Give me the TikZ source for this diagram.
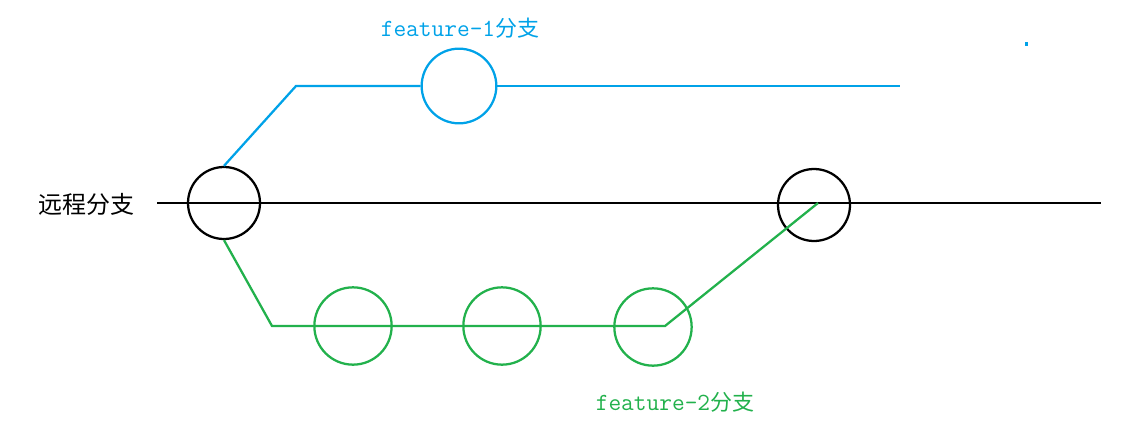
\documentclass[tikz,border=0pt]{standalone}
\usepackage{fontspec}
\newfontfamily\cjk{Noto Sans CJK SC}
\usetikzlibrary{positioning,calc}
\definecolor{paintblue}{HTML}{00A2E8}
\definecolor{paintgreen}{HTML}{22B14C}
\newcommand{\brlabel}[1]{{\fontsize{18.5pt}{20pt}\selectfont\ttfamily #1}}
\tikzset{commit/.style={circle,draw,line width=1.7pt,inner sep=0pt,minimum size=54pt},bluecommit/.style={commit,draw=paintblue,minimum size=56pt},greencommit/.style={commit,draw=paintgreen,minimum size=58pt},branch/.style={line width=1.7pt,line join=miter},lbl/.style={inner sep=0pt,font=\fontsize{16.5pt}{18pt}\selectfont}}
\begin{document}
\begin{tikzpicture}[x=0.75pt,y=-0.75pt]
\useasboundingbox (0,0) rectangle (1138,432);
% remote branch
\node[lbl,font=\fontsize{18pt}{19pt}\selectfont\cjk] (mainlbl) at (86,204) {远程分支};
\coordinate (mainstart) at (157,203);\coordinate (mainend) at (1101,203);
\node[commit] (m0) at (224,203) {};
\node[commit] (m1) at (814,205) {};
\draw[branch] (mainstart)--(mainend);
% feature-1
\node[bluecommit] (f1) at (459,86) {};
\coordinate (f1bend) at (296,86);\coordinate (f1end) at (900,86);
\draw[branch,paintblue] (m0.north)--(f1bend)--(f1.west);\draw[branch,paintblue] (f1.east)--(f1end);
\node[lbl,text=paintblue] (f1lbl) at (460,28) {\brlabel{feature-1}\cjk 分支};
\fill[paintblue] (1024.5,42) rectangle (1027.5,46);
% feature-2
\node[greencommit] (g1) at (353,326) {};
\node[greencommit] (g2) at (502,326) {};
\node[greencommit] (g3) at (653,327) {};
\coordinate (g0bend) at (272,326);\coordinate (g3bend) at (665,326);\coordinate (merge) at (818,203);
\draw[branch,paintgreen] (m0.south)--(g0bend)--(g3bend)--(merge);
\node[lbl,text=paintgreen] (f2lbl) at (675,402) {\brlabel{feature-2}\cjk 分支};
\end{tikzpicture}
\end{document}
